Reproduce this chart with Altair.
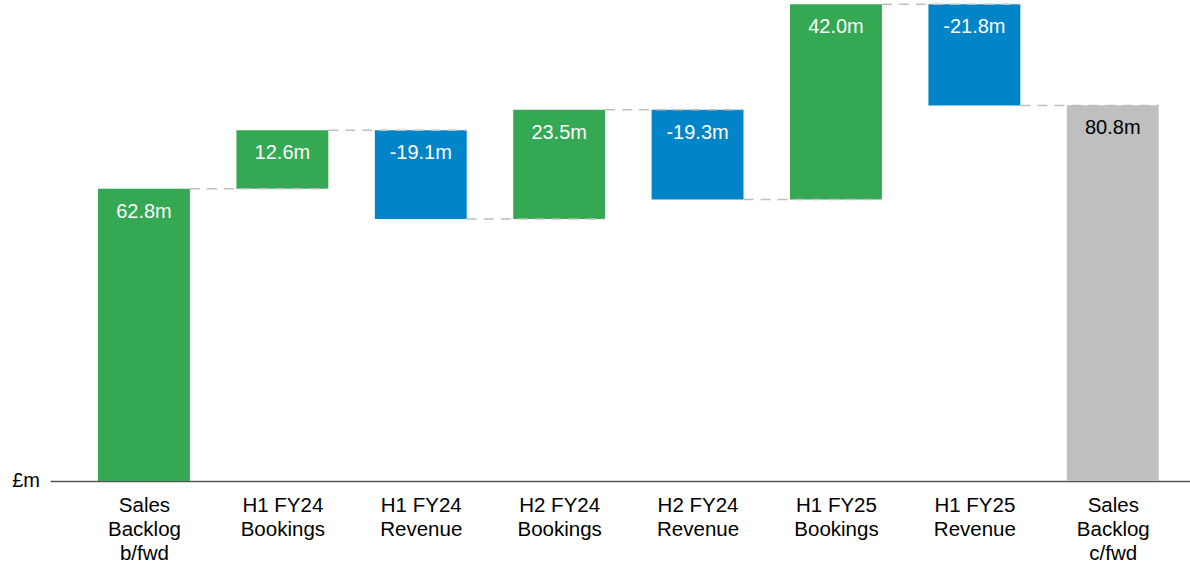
import json
import altair as alt
import pandas as pd

categories = ["Sales|Backlog|b/fwd", "H1 FY24|Bookings", "H1 FY24|Revenue", "H2 FY24|Bookings",
              "H2 FY24|Revenue", "H1 FY25|Bookings", "H1 FY25|Revenue", "Sales|Backlog|c/fwd"]
amounts = [62.8, 12.6, -19.1, 23.5, -19.3, 42.0, -21.8, 80.8]
labels = ["62.8m", "12.6m", "-19.1m", "23.5m", "-19.3m", "42.0m", "-21.8m", "80.8m"]
kinds = ["up", "up", "down", "up", "down", "up", "down", "total"]

HALF = 0.332
rows = []
running = 0.0
for i, (c, a, l, k) in enumerate(zip(categories, amounts, labels, kinds)):
    if k == "total":
        start, end = 0.0, a
    else:
        start, end = running, running + a
        running = end
    rows.append(dict(idx=i, x0=i - HALF, x1=i + HALF, start=start, end=end,
                     top=max(start, end), label=l, kind=k,
                     tcolor="black" if k == "total" else "white"))
df = pd.DataFrame(rows)

conn = pd.DataFrame([dict(xa=i + HALF, xb=i + 1 + HALF, level=rows[i]["end"])
                     for i in range(len(rows) - 1)])

xscale = alt.Scale(domain=[-0.679, 7.558], nice=False, zero=False)
yscale = alt.Scale(domain=[0, 103.4], nice=False, zero=True)
label_expr = "split(" + json.dumps(categories) + "[datum.value], '|')"

bars = alt.Chart(df).mark_bar().encode(
    x=alt.X("x0:Q", scale=xscale,
            axis=alt.Axis(values=list(range(8)), labelExpr=label_expr, title=None,
                          ticks=False, grid=False, domainColor="#555555", domainWidth=1.5,
                          labelFont="Liberation Sans", labelFontSize=20.5, labelColor="black",
                          labelLineHeight=24, labelPadding=14, labelBaseline="top",
                          labelAlign="center")),
    x2="x1:Q",
    y=alt.Y("start:Q", scale=yscale, axis=None),
    y2="end:Q",
    color=alt.Color("kind:N", scale=alt.Scale(domain=["up", "down", "total"],
                                              range=["#34A853", "#0284C9", "#BFBFBF"]),
                    legend=None),
)

rules = alt.Chart(conn).mark_rule(color="#BFBFBF", strokeWidth=1.5, strokeDash=[10, 7]).encode(
    x=alt.X("xa:Q", scale=xscale),
    x2="xb:Q",
    y=alt.Y("level:Q", scale=yscale),
)

texts = alt.Chart(df).mark_text(font="Liberation Sans", fontSize=20, baseline="alphabetic",
                                dy=29, align="center").encode(
    x=alt.X("idx:Q", scale=xscale),
    y=alt.Y("top:Q", scale=yscale),
    text="label:N",
    color=alt.Color("tcolor:N", scale=None),
)

unit = alt.Chart(pd.DataFrame({"t": ["£m"]})).mark_text(
    font="Liberation Sans", fontSize=20, align="right", baseline="middle", color="black"
).encode(x=alt.value(-10), y=alt.value(481), text="t:N")

chart = alt.layer(bars, rules, texts, unit).properties(
    width=1140, height=481,
    autosize=alt.AutoSizeParams(type="none"),
    padding={"left": 50, "top": 0, "right": 0, "bottom": 83},
).configure_view(stroke=None)

chart.save("out.html", embed_options={"renderer": "svg", "actions": False})
